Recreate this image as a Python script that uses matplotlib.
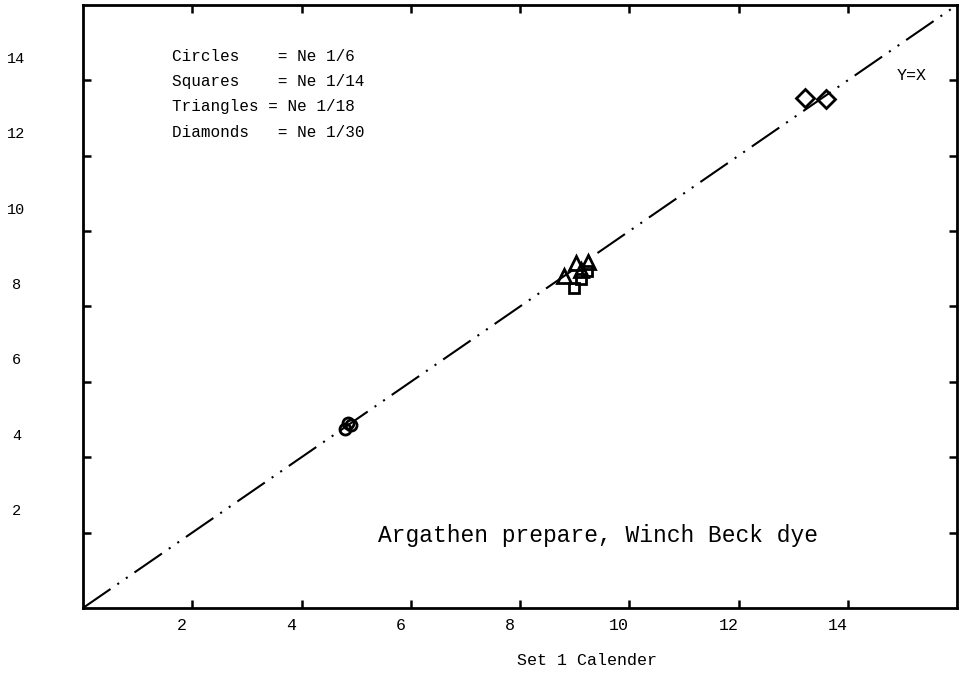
import matplotlib
matplotlib.use("Agg")
import matplotlib.pyplot as plt
import matplotlib.transforms as mtransforms

# data (Set 1 Calender vs. Set 2)
circles_x = [4.85, 4.80, 4.90]
circles_y = [4.92, 4.74, 4.85]
squares_x = [8.98, 9.12, 9.22]
squares_y = [8.48, 8.72, 8.94]
triangles_x = [8.80, 9.02, 9.24, 9.12]
triangles_y = [8.80, 9.15, 9.18, 8.98]
diamonds_x = [13.22, 13.60]
diamonds_y = [13.52, 13.50]

ticks = [2, 4, 6, 8, 10, 12, 14]
legend_lines = ["Circles    = Ne 1/6",
                "Squares    = Ne 1/14",
                "Triangles = Ne 1/18",
                "Diamonds   = Ne 1/30"]
note = "Argathen prepare, Winch Beck dye"
x_title = "Set 1 Calender"

font = "Liberation Mono"

fig = plt.figure(figsize=(9.59, 6.74), dpi=100)
ax = fig.add_axes([0.0866, 0.098, 0.9113, 0.8946])

# y = x reference line, dash-dot-dot like the plotter
ax.plot([0, 16], [0, 16], color="black", lw=1.5,
        linestyle=(0, (16, 4, 1, 4, 1, 4)))

mk = dict(linestyle="none", markerfacecolor="none", markeredgecolor="black",
          markeredgewidth=2)
ax.plot(circles_x, circles_y, marker="o", markersize=8, **mk)
ax.plot(squares_x, squares_y, marker="s", markersize=7, **mk)
ax.plot(triangles_x, triangles_y, marker="^", markersize=10, **mk)
ax.plot(diamonds_x, diamonds_y, marker="D", markersize=9, **mk)

ax.set_xlim(0, 16)
ax.set_ylim(0, 16)
ax.set_xticks(ticks)
ax.set_yticks(ticks)
ax.set_xticklabels([str(t) for t in ticks], fontfamily=font, fontsize=12)
ax.set_yticklabels([str(t) for t in ticks], fontfamily=font, fontsize=11,
                   ha="center")
ax.tick_params(direction="in", length=6, width=1.8, top=True, right=True)
ax.tick_params(axis="x", pad=7)
ax.tick_params(axis="y", pad=48)

# the plotter put the labels a little off their ticks
xshift = mtransforms.ScaledTranslation(-10 / 100, 0, fig.dpi_scale_trans)
for lab in ax.get_xticklabels():
    lab.set_transform(lab.get_transform() + xshift)
yshift = mtransforms.ScaledTranslation(0, 23 / 100, fig.dpi_scale_trans)
for lab in ax.get_yticklabels():
    lab.set_transform(lab.get_transform() + yshift)

for s in ax.spines.values():
    s.set_linewidth(2)

ax.set_xlabel(x_title, fontfamily=font, fontsize=12)
ax.xaxis.set_label_coords(0.577, -0.075)

for i, line in enumerate(legend_lines):
    ax.text(0.102, 0.915 - i * 0.042, line, transform=ax.transAxes,
            fontfamily=font, fontsize=11.5, va="center", ha="left")

ax.text(0.931, 0.883, "Y=X", transform=ax.transAxes, fontfamily=font,
        fontsize=12, va="center", ha="left")
ax.text(0.589, 0.12, note, transform=ax.transAxes, fontfamily=font,
        fontsize=16.5, va="center", ha="center")

fig.savefig("out.png", dpi=100)
